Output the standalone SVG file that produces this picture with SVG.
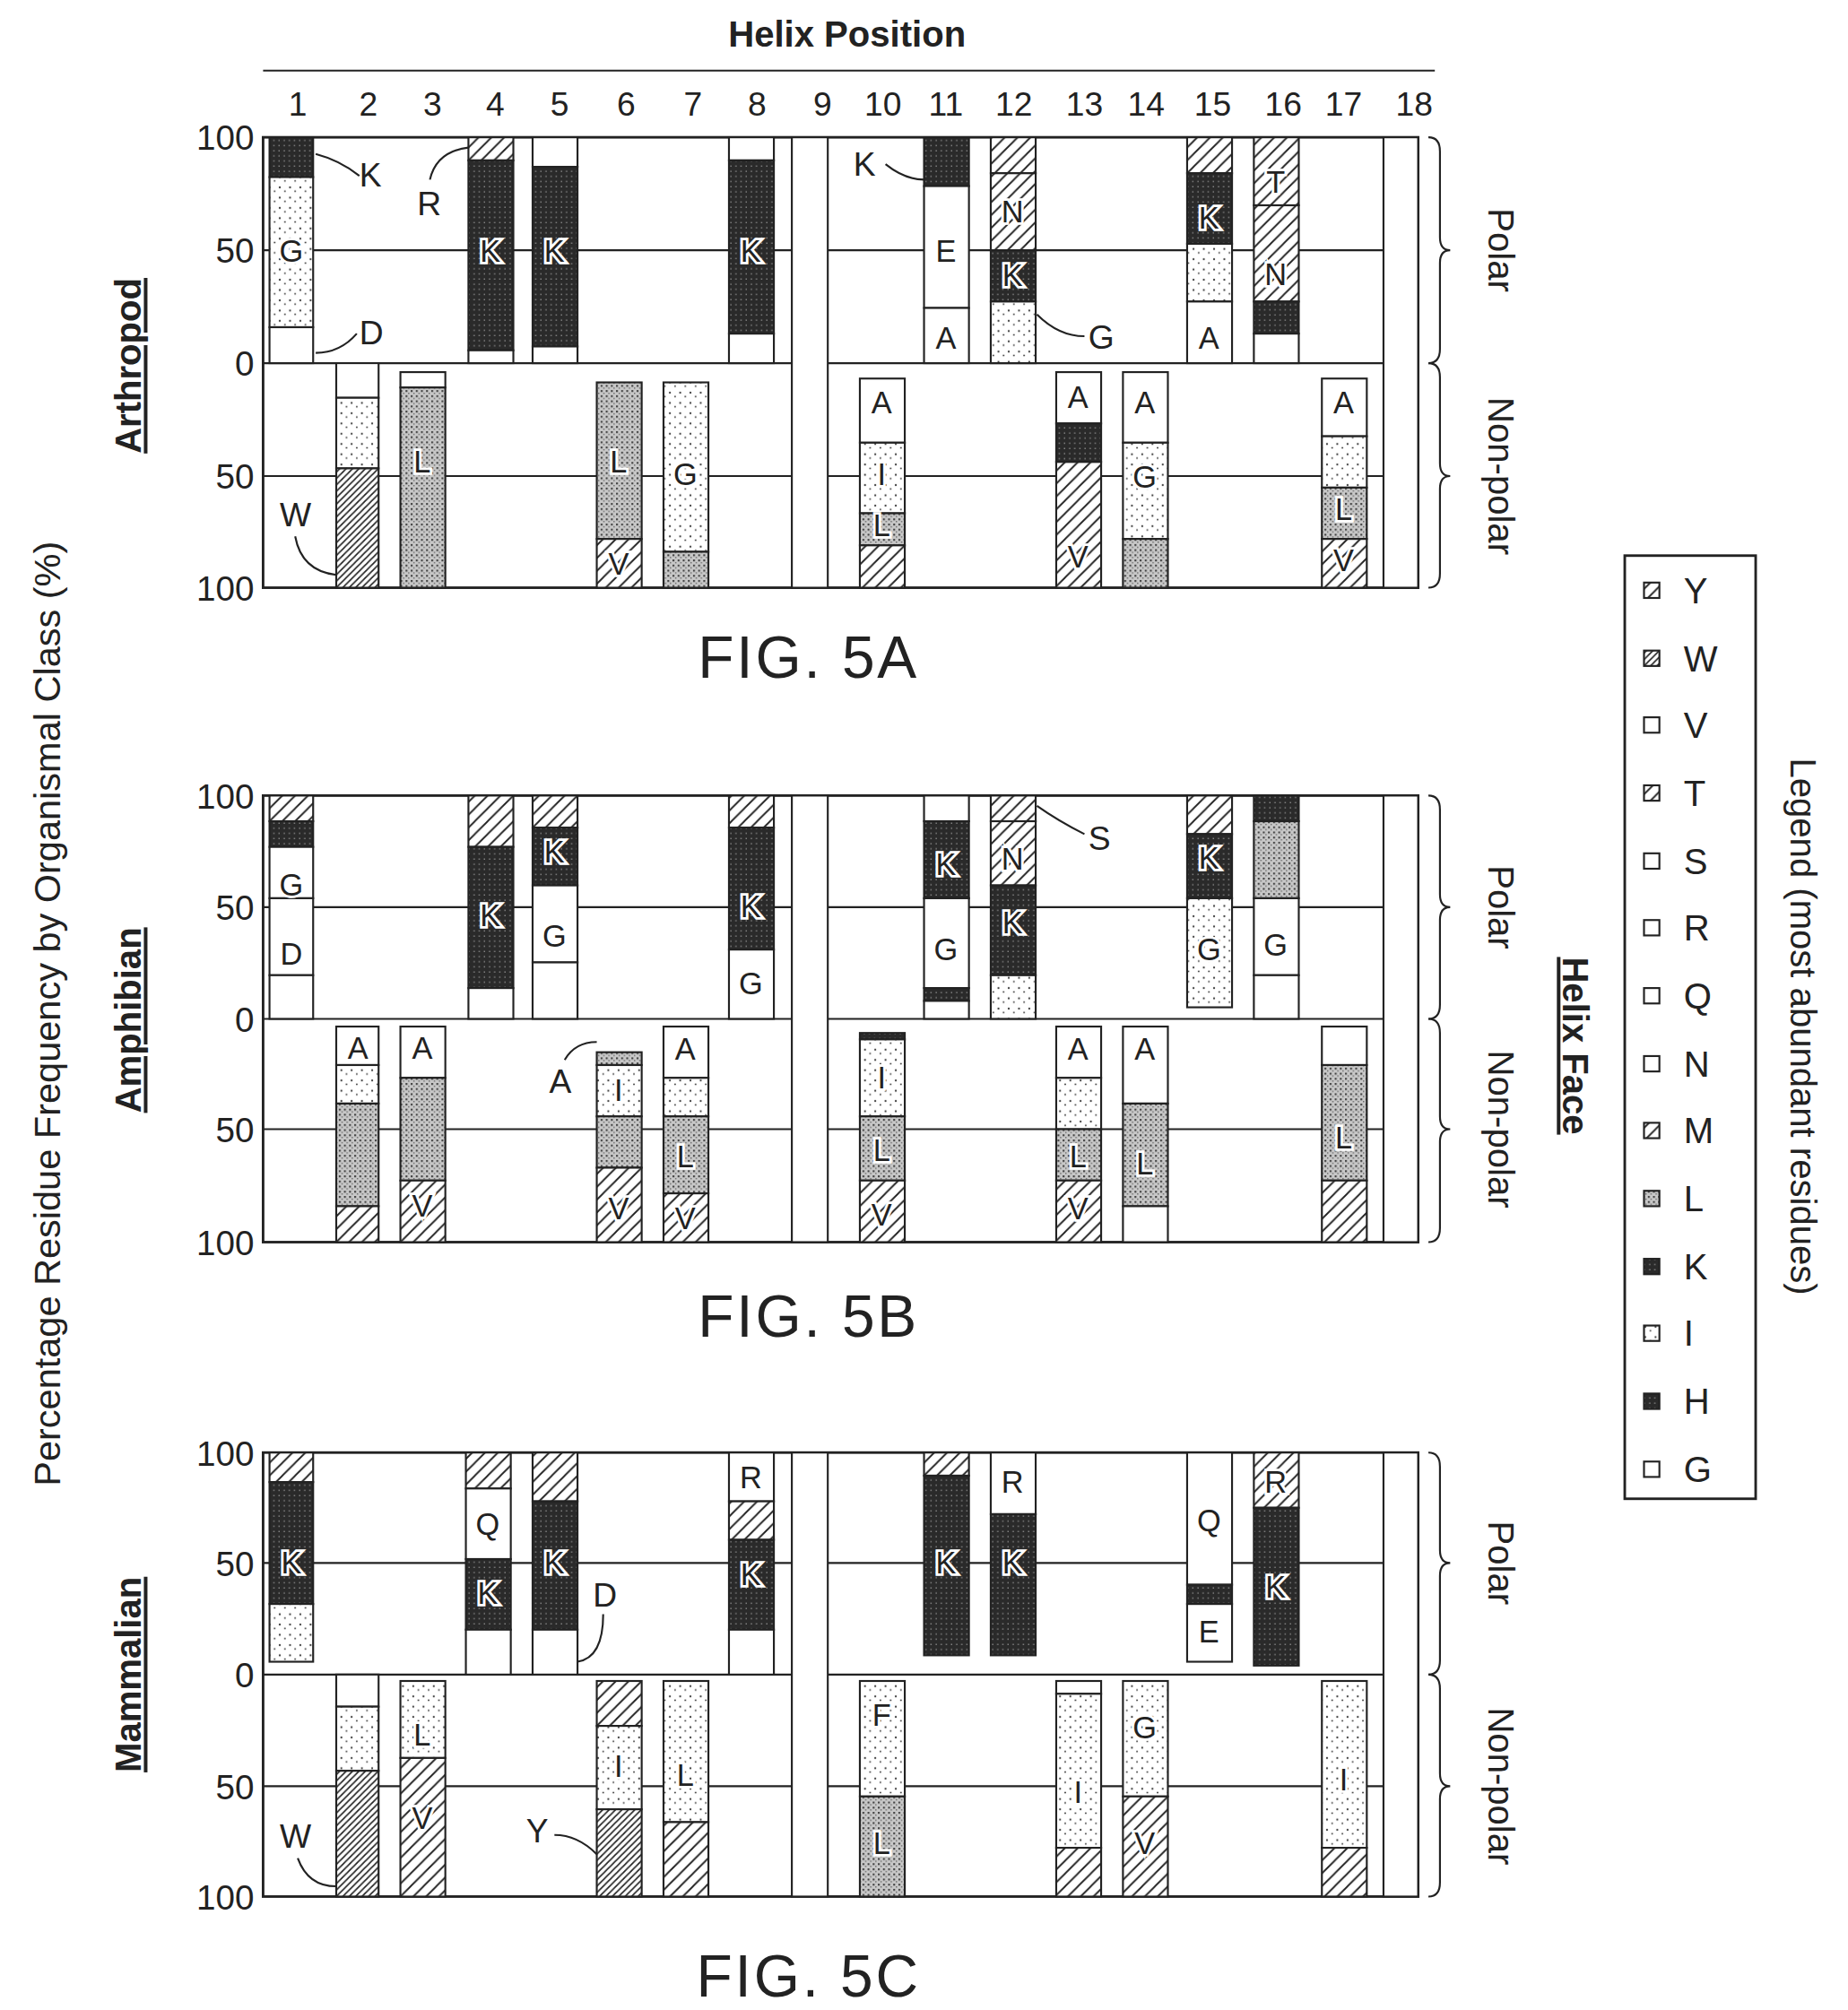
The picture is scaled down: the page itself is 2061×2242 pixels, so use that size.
<svg xmlns="http://www.w3.org/2000/svg" width="2061" height="2242" viewBox="0 0 2061 2242">
<defs>
<pattern id="pK" width="4" height="4" patternUnits="userSpaceOnUse"><rect width="4" height="4" fill="#2a2a2a"/><rect x="1" y="1" width="1" height="1" fill="#888"/></pattern>
<pattern id="pL" width="4" height="4" patternUnits="userSpaceOnUse"><rect width="4" height="4" fill="#c8c8c8"/><rect x="0" y="0" width="1.5" height="1.5" fill="#444"/><rect x="2" y="2" width="1" height="1" fill="#666"/></pattern>
<pattern id="pG" width="8" height="8" patternUnits="userSpaceOnUse"><rect width="8" height="8" fill="#fff"/><circle cx="2" cy="2" r="0.8" fill="#444"/><circle cx="6" cy="5" r="0.7" fill="#444"/></pattern>
<pattern id="pH" width="10" height="10" patternUnits="userSpaceOnUse"><rect width="10" height="10" fill="#fff"/><path d="M0 10L10 0M-2 2L2 -2M8 12L12 8" stroke="#222" stroke-width="1.3"/></pattern>
<pattern id="pW" width="5" height="5" patternUnits="userSpaceOnUse"><rect width="5" height="5" fill="#fff"/><path d="M0 5L5 0M-1 1L1 -1M4 6L6 4" stroke="#222" stroke-width="1.2"/></pattern>
</defs>
<style>
text{font-family:"Liberation Sans",Arial,sans-serif;fill:#222}
.n{font-size:26px;text-anchor:middle}
.ax{font-size:27px;text-anchor:end}
.b{font-size:24px;text-anchor:middle;stroke:#fff;stroke-width:4;paint-order:stroke}
.c{font-size:26px}
.fig{font-size:46px;text-anchor:middle;letter-spacing:2px}
.t{font-size:28px;font-weight:bold;text-anchor:middle}
.lg{font-size:28px}
.fr{fill:none;stroke:#222;stroke-width:2}
.ln{stroke:#222;stroke-width:1.5;fill:none}
.w,.k,.l,.g,.h,.d{stroke:#222;stroke-width:1.5}
.w{fill:#fff}.k{fill:url(#pK)}.l{fill:url(#pL)}.g{fill:url(#pG)}.h{fill:url(#pH)}.d{fill:url(#pW)}
</style>
<rect width="2061" height="2242" fill="#fff"/>
<g transform="scale(1.4313)">
<g id="header">
<text x="660" y="36" class="t">Helix Position</text>
<line x1="205" y1="55" x2="1118" y2="55" class="ln"/>
<text x="232" y="90" class="n">1</text><text x="287" y="90" class="n">2</text><text x="337" y="90" class="n">3</text><text x="386" y="90" class="n">4</text><text x="436" y="90" class="n">5</text><text x="488" y="90" class="n">6</text><text x="540" y="90" class="n">7</text><text x="590" y="90" class="n">8</text><text x="641" y="90" class="n">9</text><text x="688" y="90" class="n">10</text><text x="737" y="90" class="n">11</text><text x="790" y="90" class="n">12</text><text x="845" y="90" class="n">13</text><text x="893" y="90" class="n">14</text><text x="945" y="90" class="n">15</text><text x="1000" y="90" class="n">16</text><text x="1047" y="90" class="n">17</text><text x="1102" y="90" class="n">18</text>
</g>
<text transform="translate(47,790) rotate(-90)" class="t" style="font-weight:normal;font-size:29px">Percentage Residue Frequency by Organismal Class (%)</text>

<g id="chartA">
<rect x="205" y="107" width="900" height="351" class="fr"/>
<line x1="205" y1="195" x2="1105" y2="195" class="ln"/><line x1="205" y1="283" x2="1105" y2="283" class="ln"/><line x1="205" y1="371" x2="1105" y2="371" class="ln"/>
<text x="198" y="117" class="ax">100</text><text x="198" y="205" class="ax">50</text><text x="198" y="293" class="ax">0</text><text x="198" y="381" class="ax">50</text><text x="198" y="468" class="ax">100</text>
<rect x="617" y="107" width="28" height="351" class="w"/><rect x="1078" y="107" width="27" height="351" class="w"/>
<rect x="210" y="107" width="34" height="31" class="k"/><rect x="210" y="138" width="34" height="117" class="g"/><rect x="210" y="255" width="34" height="28" class="w"/><text x="227" y="204" class="b">G</text>
<rect x="365" y="107" width="35" height="18" class="h"/><rect x="365" y="125" width="35" height="148" class="k"/><rect x="365" y="273" width="35" height="10" class="w"/><text x="382" y="204" class="b">K</text>
<rect x="415" y="107" width="35" height="23" class="w"/><rect x="415" y="130" width="35" height="140" class="k"/><rect x="415" y="270" width="35" height="13" class="w"/><text x="432" y="204" class="b">K</text>
<rect x="568" y="107" width="35" height="18" class="w"/><rect x="568" y="125" width="35" height="135" class="k"/><rect x="568" y="260" width="35" height="23" class="w"/><text x="585" y="204" class="b">K</text>
<rect x="720" y="107" width="35" height="38" class="k"/><rect x="720" y="145" width="35" height="95" class="w"/><rect x="720" y="240" width="35" height="43" class="w"/><text x="737" y="204" class="b">E</text><text x="737" y="272" class="b">A</text>
<rect x="772" y="107" width="35" height="28" class="h"/><rect x="772" y="135" width="35" height="60" class="h"/><rect x="772" y="195" width="35" height="40" class="k"/><rect x="772" y="235" width="35" height="48" class="g"/><text x="789" y="173" class="b">N</text><text x="789" y="223" class="b">K</text>
<rect x="925" y="107" width="35" height="28" class="h"/><rect x="925" y="135" width="35" height="55" class="k"/><rect x="925" y="190" width="35" height="45" class="g"/><rect x="925" y="235" width="35" height="48" class="w"/><text x="942" y="178" class="b">K</text><text x="942" y="272" class="b">A</text>
<rect x="977" y="107" width="35" height="53" class="h"/><rect x="977" y="160" width="35" height="75" class="h"/><rect x="977" y="235" width="35" height="25" class="k"/><rect x="977" y="260" width="35" height="23" class="w"/><text x="994" y="150" class="b">T</text><text x="994" y="222" class="b">N</text>
<rect x="262" y="283" width="33" height="27" class="w"/><rect x="262" y="310" width="33" height="55" class="g"/><rect x="262" y="365" width="33" height="93" class="d"/>
<rect x="312" y="290" width="35" height="12" class="w"/><rect x="312" y="302" width="35" height="156" class="l"/><text x="329" y="368" class="b">L</text>
<rect x="465" y="298" width="35" height="122" class="l"/><rect x="465" y="420" width="35" height="38" class="h"/><text x="482" y="368" class="b">L</text><text x="482" y="448" class="b">V</text>
<rect x="517" y="298" width="35" height="132" class="g"/><rect x="517" y="430" width="35" height="28" class="l"/><text x="534" y="378" class="b">G</text>
<rect x="670" y="295" width="35" height="50" class="w"/><rect x="670" y="345" width="35" height="55" class="g"/><rect x="670" y="400" width="35" height="25" class="l"/><rect x="670" y="425" width="35" height="33" class="h"/><text x="687" y="322" class="b">A</text><text x="687" y="378" class="b">I</text><text x="687" y="418" class="b">L</text>
<rect x="823" y="290" width="35" height="40" class="w"/><rect x="823" y="330" width="35" height="30" class="k"/><rect x="823" y="360" width="35" height="98" class="h"/><text x="840" y="318" class="b">A</text><text x="840" y="442" class="b">V</text>
<rect x="875" y="290" width="35" height="55" class="w"/><rect x="875" y="345" width="35" height="75" class="g"/><rect x="875" y="420" width="35" height="38" class="l"/><text x="892" y="322" class="b">A</text><text x="892" y="380" class="b">G</text>
<rect x="1030" y="295" width="35" height="45" class="w"/><rect x="1030" y="340" width="35" height="40" class="g"/><rect x="1030" y="380" width="35" height="40" class="l"/><rect x="1030" y="420" width="35" height="38" class="h"/><text x="1047" y="322" class="b">A</text><text x="1047" y="405" class="b">L</text><text x="1047" y="445" class="b">V</text>
<text x="280" y="145" class="c">K</text><path d="M246 120 Q265 125 280 137" class="ln"/>
<text x="280" y="268" class="c">D</text><path d="M246 275 Q265 275 278 260" class="ln"/>
<text x="325" y="168" class="c">R</text><path d="M335 140 Q340 118 365 115" class="ln"/>
<text x="665" y="137" class="c">K</text><path d="M690 128 Q705 140 720 140" class="ln"/>
<text x="848" y="272" class="c">G</text><path d="M808 245 Q825 262 845 262" class="ln"/>
<text x="218" y="410" class="c">W</text><path d="M230 418 Q235 445 262 448" class="ln"/>
<path d="M1113 107 Q1122 107 1122 118 L1122 185 Q1122 195 1130 195 Q1122 195 1122 205 L1122 272 Q1122 283 1113 283" class="ln"/>
<path d="M1113 283 Q1122 283 1122 294 L1122 361 Q1122 371 1130 371 Q1122 371 1122 381 L1122 447 Q1122 458 1113 458" class="ln"/>
<text transform="translate(1160,195) rotate(90)" class="lg" text-anchor="middle">Polar</text>
<text transform="translate(1160,371) rotate(90)" class="lg" text-anchor="middle">Non-polar</text>
<text transform="translate(110,285) rotate(-90)" class="t" style="text-decoration:underline">Arthropod</text>
<text x="630" y="528" class="fig">FIG. 5A</text>
</g>

<g id="chartB">
<rect x="205" y="620" width="900" height="348" class="fr"/>
<line x1="205" y1="707" x2="1105" y2="707" class="ln"/><line x1="205" y1="794" x2="1105" y2="794" class="ln"/><line x1="205" y1="880" x2="1105" y2="880" class="ln"/>
<text x="198" y="630" class="ax">100</text><text x="198" y="717" class="ax">50</text><text x="198" y="804" class="ax">0</text><text x="198" y="890" class="ax">50</text><text x="198" y="978" class="ax">100</text>
<rect x="617" y="620" width="28" height="348" class="w"/><rect x="1078" y="620" width="27" height="348" class="w"/>
<rect x="210" y="620" width="34" height="20" class="h"/><rect x="210" y="640" width="34" height="20" class="k"/><rect x="210" y="660" width="34" height="40" class="w"/><rect x="210" y="700" width="34" height="60" class="w"/><rect x="210" y="760" width="34" height="34" class="w"/><text x="227" y="698" class="b">G</text><text x="227" y="752" class="b">D</text>
<rect x="365" y="620" width="35" height="40" class="h"/><rect x="365" y="660" width="35" height="110" class="k"/><rect x="365" y="770" width="35" height="24" class="w"/><text x="382" y="722" class="b">K</text>
<rect x="415" y="620" width="35" height="25" class="h"/><rect x="415" y="645" width="35" height="45" class="k"/><rect x="415" y="690" width="35" height="60" class="w"/><rect x="415" y="750" width="35" height="44" class="w"/><text x="432" y="672" class="b">K</text><text x="432" y="738" class="b">G</text>
<rect x="568" y="620" width="35" height="25" class="h"/><rect x="568" y="645" width="35" height="95" class="k"/><rect x="568" y="740" width="35" height="54" class="w"/><text x="585" y="715" class="b">K</text><text x="585" y="775" class="b">G</text>
<rect x="720" y="620" width="35" height="20" class="w"/><rect x="720" y="640" width="35" height="60" class="k"/><rect x="720" y="700" width="35" height="70" class="w"/><rect x="720" y="770" width="35" height="10" class="k"/><rect x="720" y="780" width="35" height="14" class="w"/><text x="737" y="682" class="b">K</text><text x="737" y="748" class="b">G</text>
<rect x="772" y="620" width="35" height="20" class="h"/><rect x="772" y="640" width="35" height="50" class="h"/><rect x="772" y="690" width="35" height="70" class="k"/><rect x="772" y="760" width="35" height="34" class="g"/><text x="789" y="678" class="b">N</text><text x="789" y="727" class="b">K</text>
<rect x="925" y="620" width="35" height="30" class="h"/><rect x="925" y="650" width="35" height="50" class="k"/><rect x="925" y="700" width="35" height="85" class="g"/><text x="942" y="677" class="b">K</text><text x="942" y="748" class="b">G</text>
<rect x="977" y="620" width="35" height="20" class="k"/><rect x="977" y="640" width="35" height="60" class="l"/><rect x="977" y="700" width="35" height="60" class="w"/><rect x="977" y="760" width="35" height="34" class="w"/><text x="994" y="745" class="b">G</text>
<rect x="262" y="800" width="33" height="30" class="w"/><rect x="262" y="830" width="33" height="30" class="g"/><rect x="262" y="860" width="33" height="80" class="l"/><rect x="262" y="940" width="33" height="28" class="h"/><text x="279" y="825" class="b">A</text>
<rect x="312" y="800" width="35" height="40" class="w"/><rect x="312" y="840" width="35" height="80" class="l"/><rect x="312" y="920" width="35" height="48" class="h"/><text x="329" y="825" class="b">A</text><text x="329" y="948" class="b">V</text>
<rect x="465" y="820" width="35" height="10" class="l"/><rect x="465" y="830" width="35" height="40" class="g"/><rect x="465" y="870" width="35" height="40" class="l"/><rect x="465" y="910" width="35" height="58" class="h"/><text x="482" y="858" class="b">I</text><text x="482" y="950" class="b">V</text>
<rect x="517" y="800" width="35" height="40" class="w"/><rect x="517" y="840" width="35" height="30" class="g"/><rect x="517" y="870" width="35" height="60" class="l"/><rect x="517" y="930" width="35" height="38" class="h"/><text x="534" y="826" class="b">A</text><text x="534" y="910" class="b">L</text><text x="534" y="958" class="b">V</text>
<rect x="670" y="805" width="35" height="5" class="k"/><rect x="670" y="810" width="35" height="60" class="g"/><rect x="670" y="870" width="35" height="50" class="l"/><rect x="670" y="920" width="35" height="48" class="h"/><text x="687" y="848" class="b">I</text><text x="687" y="905" class="b">L</text><text x="687" y="955" class="b">V</text>
<rect x="823" y="800" width="35" height="40" class="w"/><rect x="823" y="840" width="35" height="40" class="g"/><rect x="823" y="880" width="35" height="40" class="l"/><rect x="823" y="920" width="35" height="48" class="h"/><text x="840" y="826" class="b">A</text><text x="840" y="910" class="b">L</text><text x="840" y="950" class="b">V</text>
<rect x="875" y="800" width="35" height="60" class="w"/><rect x="875" y="860" width="35" height="80" class="l"/><rect x="875" y="940" width="35" height="28" class="w"/><text x="892" y="826" class="b">A</text><text x="892" y="915" class="b">L</text>
<rect x="1030" y="800" width="35" height="30" class="w"/><rect x="1030" y="830" width="35" height="90" class="l"/><rect x="1030" y="920" width="35" height="48" class="h"/><text x="1047" y="895" class="b">L</text>
<text x="848" y="662" class="c">S</text><path d="M808 628 Q825 640 845 650" class="ln"/>
<text x="428" y="852" class="c">A</text><path d="M440 826 Q448 812 465 812" class="ln"/>
<path d="M1113 620 Q1122 620 1122 631 L1122 697 Q1122 707 1130 707 Q1122 707 1122 717 L1122 783 Q1122 794 1113 794" class="ln"/>
<path d="M1113 794 Q1122 794 1122 805 L1122 870 Q1122 880 1130 880 Q1122 880 1122 890 L1122 957 Q1122 968 1113 968" class="ln"/>
<text transform="translate(1160,707) rotate(90)" class="lg" text-anchor="middle">Polar</text>
<text transform="translate(1160,880) rotate(90)" class="lg" text-anchor="middle">Non-polar</text>
<text transform="translate(110,795) rotate(-90)" class="t" style="text-decoration:underline">Amphibian</text>
<text x="630" y="1042" class="fig">FIG. 5B</text>
</g>

<g id="chartC">
<rect x="205" y="1132" width="900" height="346" class="fr"/>
<line x1="205" y1="1218" x2="1105" y2="1218" class="ln"/><line x1="205" y1="1305" x2="1105" y2="1305" class="ln"/><line x1="205" y1="1392" x2="1105" y2="1392" class="ln"/>
<text x="198" y="1142" class="ax">100</text><text x="198" y="1228" class="ax">50</text><text x="198" y="1315" class="ax">0</text><text x="198" y="1402" class="ax">50</text><text x="198" y="1488" class="ax">100</text>
<rect x="617" y="1132" width="28" height="346" class="w"/><rect x="1078" y="1132" width="27" height="346" class="w"/>
<rect x="210" y="1132" width="34" height="23" class="h"/><rect x="210" y="1155" width="34" height="95" class="k"/><rect x="210" y="1250" width="34" height="45" class="g"/><text x="227" y="1226" class="b">K</text>
<rect x="363" y="1132" width="35" height="28" class="h"/><rect x="363" y="1160" width="35" height="55" class="w"/><rect x="363" y="1215" width="35" height="55" class="k"/><rect x="363" y="1270" width="35" height="35" class="w"/><text x="380" y="1196" class="b">Q</text><text x="380" y="1250" class="b">K</text>
<rect x="415" y="1132" width="35" height="38" class="h"/><rect x="415" y="1170" width="35" height="100" class="k"/><rect x="415" y="1270" width="35" height="35" class="w"/><text x="432" y="1226" class="b">K</text>
<rect x="568" y="1132" width="35" height="38" class="w"/><rect x="568" y="1170" width="35" height="30" class="h"/><rect x="568" y="1200" width="35" height="70" class="k"/><rect x="568" y="1270" width="35" height="35" class="w"/><text x="585" y="1160" class="b">R</text><text x="585" y="1235" class="b">K</text>
<rect x="720" y="1132" width="35" height="18" class="h"/><rect x="720" y="1150" width="35" height="140" class="k"/><text x="737" y="1226" class="b">K</text>
<rect x="772" y="1132" width="35" height="48" class="w"/><rect x="772" y="1180" width="35" height="110" class="k"/><text x="789" y="1163" class="b">R</text><text x="789" y="1226" class="b">K</text>
<rect x="925" y="1132" width="35" height="103" class="w"/><rect x="925" y="1235" width="35" height="15" class="k"/><rect x="925" y="1250" width="35" height="45" class="w"/><text x="942" y="1193" class="b">Q</text><text x="942" y="1280" class="b">E</text>
<rect x="977" y="1132" width="35" height="43" class="h"/><rect x="977" y="1175" width="35" height="123" class="k"/><text x="994" y="1163" class="b">R</text><text x="994" y="1245" class="b">K</text>
<rect x="262" y="1305" width="33" height="25" class="w"/><rect x="262" y="1330" width="33" height="50" class="g"/><rect x="262" y="1380" width="33" height="98" class="d"/>
<rect x="312" y="1310" width="35" height="60" class="g"/><rect x="312" y="1370" width="35" height="108" class="h"/><text x="329" y="1360" class="b">L</text><text x="329" y="1425" class="b">V</text>
<rect x="465" y="1310" width="35" height="35" class="h"/><rect x="465" y="1345" width="35" height="65" class="g"/><rect x="465" y="1410" width="35" height="68" class="d"/><text x="482" y="1385" class="b">I</text>
<rect x="517" y="1310" width="35" height="110" class="g"/><rect x="517" y="1420" width="35" height="58" class="h"/><text x="534" y="1392" class="b">L</text>
<rect x="670" y="1310" width="35" height="90" class="g"/><rect x="670" y="1400" width="35" height="78" class="l"/><text x="687" y="1345" class="b">F</text><text x="687" y="1445" class="b">L</text>
<rect x="823" y="1310" width="35" height="10" class="w"/><rect x="823" y="1320" width="35" height="120" class="g"/><rect x="823" y="1440" width="35" height="38" class="h"/><text x="840" y="1405" class="b">I</text>
<rect x="875" y="1310" width="35" height="90" class="g"/><rect x="875" y="1400" width="35" height="78" class="h"/><text x="892" y="1355" class="b">G</text><text x="892" y="1445" class="b">V</text>
<rect x="1030" y="1310" width="35" height="130" class="g"/><rect x="1030" y="1440" width="35" height="38" class="h"/><text x="1047" y="1395" class="b">I</text>
<text x="462" y="1252" class="c">D</text><path d="M450 1295 Q470 1292 470 1258" class="ln"/>
<text x="218" y="1440" class="c">W</text><path d="M232 1448 Q240 1470 262 1470" class="ln"/>
<text x="410" y="1436" class="c">Y</text><path d="M432 1430 Q450 1430 465 1445" class="ln"/>
<path d="M1113 1132 Q1122 1132 1122 1143 L1122 1208 Q1122 1218 1130 1218 Q1122 1218 1122 1228 L1122 1294 Q1122 1305 1113 1305" class="ln"/>
<path d="M1113 1305 Q1122 1305 1122 1316 L1122 1382 Q1122 1392 1130 1392 Q1122 1392 1122 1402 L1122 1467 Q1122 1478 1113 1478" class="ln"/>
<text transform="translate(1160,1218) rotate(90)" class="lg" text-anchor="middle">Polar</text>
<text transform="translate(1160,1392) rotate(90)" class="lg" text-anchor="middle">Non-polar</text>
<text transform="translate(110,1305) rotate(-90)" class="t" style="text-decoration:underline">Mammalian</text>
<text x="630" y="1556" class="fig">FIG. 5C</text>
</g>

<text transform="translate(1218,815) rotate(90)" class="t" style="text-decoration:underline">Helix Face</text>

<g id="legend">
<rect x="1266" y="433" width="102" height="735" fill="#fff" stroke="#222" stroke-width="2"/>
<text transform="translate(1395,800) rotate(90)" class="lg" text-anchor="middle">Legend (most abundant residues)</text>
<rect x="1281" y="454" width="12" height="12" class="h"/><text x="1312" y="470" class="lg">Y</text>
<rect x="1281" y="507" width="12" height="12" class="d"/><text x="1312" y="523" class="lg">W</text>
<rect x="1281" y="559" width="12" height="12" class="w"/><text x="1312" y="575" class="lg">V</text>
<rect x="1281" y="612" width="12" height="12" class="h"/><text x="1312" y="628" class="lg">T</text>
<rect x="1281" y="665" width="12" height="12" class="w"/><text x="1312" y="681" class="lg">S</text>
<rect x="1281" y="717" width="12" height="12" class="w"/><text x="1312" y="733" class="lg">R</text>
<rect x="1281" y="770" width="12" height="12" class="w"/><text x="1312" y="786" class="lg">Q</text>
<rect x="1281" y="823" width="12" height="12" class="w"/><text x="1312" y="839" class="lg">N</text>
<rect x="1281" y="875" width="12" height="12" class="h"/><text x="1312" y="891" class="lg">M</text>
<rect x="1281" y="928" width="12" height="12" class="l"/><text x="1312" y="944" class="lg">L</text>
<rect x="1281" y="981" width="12" height="12" class="k"/><text x="1312" y="997" class="lg">K</text>
<rect x="1281" y="1033" width="12" height="12" class="g"/><text x="1312" y="1049" class="lg">I</text>
<rect x="1281" y="1086" width="12" height="12" class="k"/><text x="1312" y="1102" class="lg">H</text>
<rect x="1281" y="1139" width="12" height="12" class="w"/><text x="1312" y="1155" class="lg">G</text>
</g>
</g>
</svg>
